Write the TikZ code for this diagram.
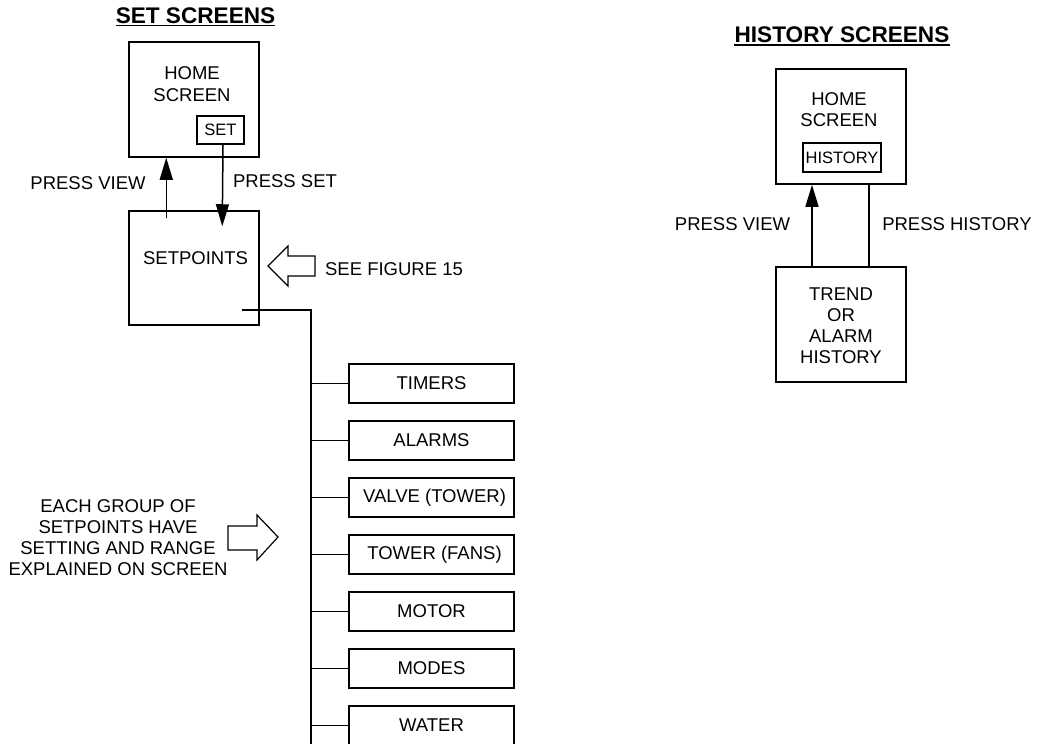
\documentclass[tikz,border=0pt]{standalone}
\usepackage{fontspec}
\setmainfont{Liberation Sans}
\usetikzlibrary{arrows.meta,calc}
\begin{document}
\begin{tikzpicture}[x=1pt,y=-1pt,
  ln/.style={line width=1.5pt},
  box/.style={draw, line width=1.5pt, inner sep=0pt},
  txt/.style={inner sep=0pt, font=\fontsize{18.5}{21}\selectfont, text height=13.2pt, text depth=0pt},
  mtxt/.style={inner sep=0pt, align=center, font=\fontsize{18.5}{21}\selectfont},
  btxt/.style={inner sep=0pt, font=\fontsize{16.5}{19}\selectfont, text height=11.8pt, text depth=0pt},
  ttl/.style={inner sep=0pt, font=\bfseries\fontsize{22.6}{26}\selectfont, text height=16.2pt, text depth=0pt},
  arr/.style={line width=1.5pt, -{Triangle[width=13pt,length=22pt]}},
  hollow/.style={draw, line width=1.2pt, fill=white, line join=miter},
  item/.style={box, minimum width=165pt, minimum height=39pt, font=\fontsize{18.5}{21}\selectfont}
]
\useasboundingbox (0,0) rectangle (1039,744);

% ---------- SET SCREENS ----------
\node[ttl] (t1) at (195.5,15) {SET SCREENS};
\draw[line width=1.6pt] ($(t1.south west)+(0,2)$) -- ($(t1.south east)+(0,2)$);

\node[box, minimum width=130pt, minimum height=115pt] (home) at (194,99.5) {};
\node[mtxt, font=\fontsize{18.5}{22}\selectfont] (homet) at (192,84) {HOME\\SCREEN};
\node[box, minimum width=47pt, minimum height=28pt] (setb) at (220.5,130) {};
\node[btxt] (setbt) at (220.5,130) {SET};

\node[box, minimum width=130pt, minimum height=114pt] (setp) at (194,268) {};
\node[txt] (setpt) at (195.5,258) {SETPOINTS};

\draw[arr] ($(setp.north west)+(38,8)$) -- ($(home.south west)+(38,0)$);
\draw[arr] (setb.south -| 223,0) -- ($(setp.north west)+(94,16)$);

\node[txt] (pv1) at (88,183) {PRESS VIEW};
\node[txt] (ps1) at (285,181) {PRESS SET};

\draw[hollow] (268,266) -- (288,246) -- (288,256) -- (315,256) -- (315,276) -- (288,276) -- (288,286) -- cycle;
\node[txt] (fig15) at (394,269) {SEE FIGURE 15};

\coordinate (busStart) at (242,310);
\coordinate (busTop) at (311,310);
\coordinate (busEnd) at (311,760);
\draw[ln] (busStart) -- (busTop) -- (busEnd);

\node[item] (timers) at (431.5,383.5) {TIMERS};
\node[item] (alarms) at (431.5,440.5) {ALARMS};
\node[item] (valve)  at (431.5,497.5) {\hspace*{6pt}VALVE (TOWER)};
\node[item] (tower)  at (431.5,554.5) {\hspace*{6pt}TOWER (FANS)};
\node[item] (motor)  at (431.5,611.5) {MOTOR};
\node[item] (modes)  at (431.5,668.5) {MODES};
\node[item] (water)  at (431.5,725.5) {WATER};
\foreach \b in {timers,alarms,valve,tower,motor,modes,water}
  \draw[ln] (\b.west -| busTop) -- (\b.west);

\node[mtxt] (each) at (118,537.5) {EACH GROUP OF\\SETPOINTS HAVE\\SETTING AND RANGE\\EXPLAINED ON SCREEN};
\draw[hollow] (278,537) -- (257,515) -- (257,526) -- (228,526) -- (228,550) -- (257,550) -- (257,560) -- cycle;

% ---------- HISTORY SCREENS ----------
\node[ttl] (t2) at (842,34.5) {HISTORY SCREENS};
\draw[line width=1.6pt] ($(t2.south west)+(0,2)$) -- ($(t2.south east)+(0,2)$);

\node[box, minimum width=130pt, minimum height=115pt] (home2) at (841,126.5) {};
\node[mtxt] (home2t) at (839,110) {HOME\\SCREEN};
\node[box, minimum width=78pt, minimum height=29pt] (histb) at (842,157.5) {};
\node[btxt] (histbt) at (842,157.5) {HISTORY};

\node[box, minimum width=130pt, minimum height=115pt] (trend) at (841,324.5) {};
\node[mtxt] (trendt) at (841,326) {TREND\\OR\\ALARM\\HISTORY};

\draw[arr] (trend.north -| 812,0) -- (home2.south -| 812,0);
\draw[ln] (home2.south -| 869,0) -- (trend.north -| 869,0);

\node[txt] (pv2) at (732.5,224) {PRESS VIEW};
\node[txt] (ph2) at (957,224) {PRESS HISTORY};
\end{tikzpicture}
\end{document}
